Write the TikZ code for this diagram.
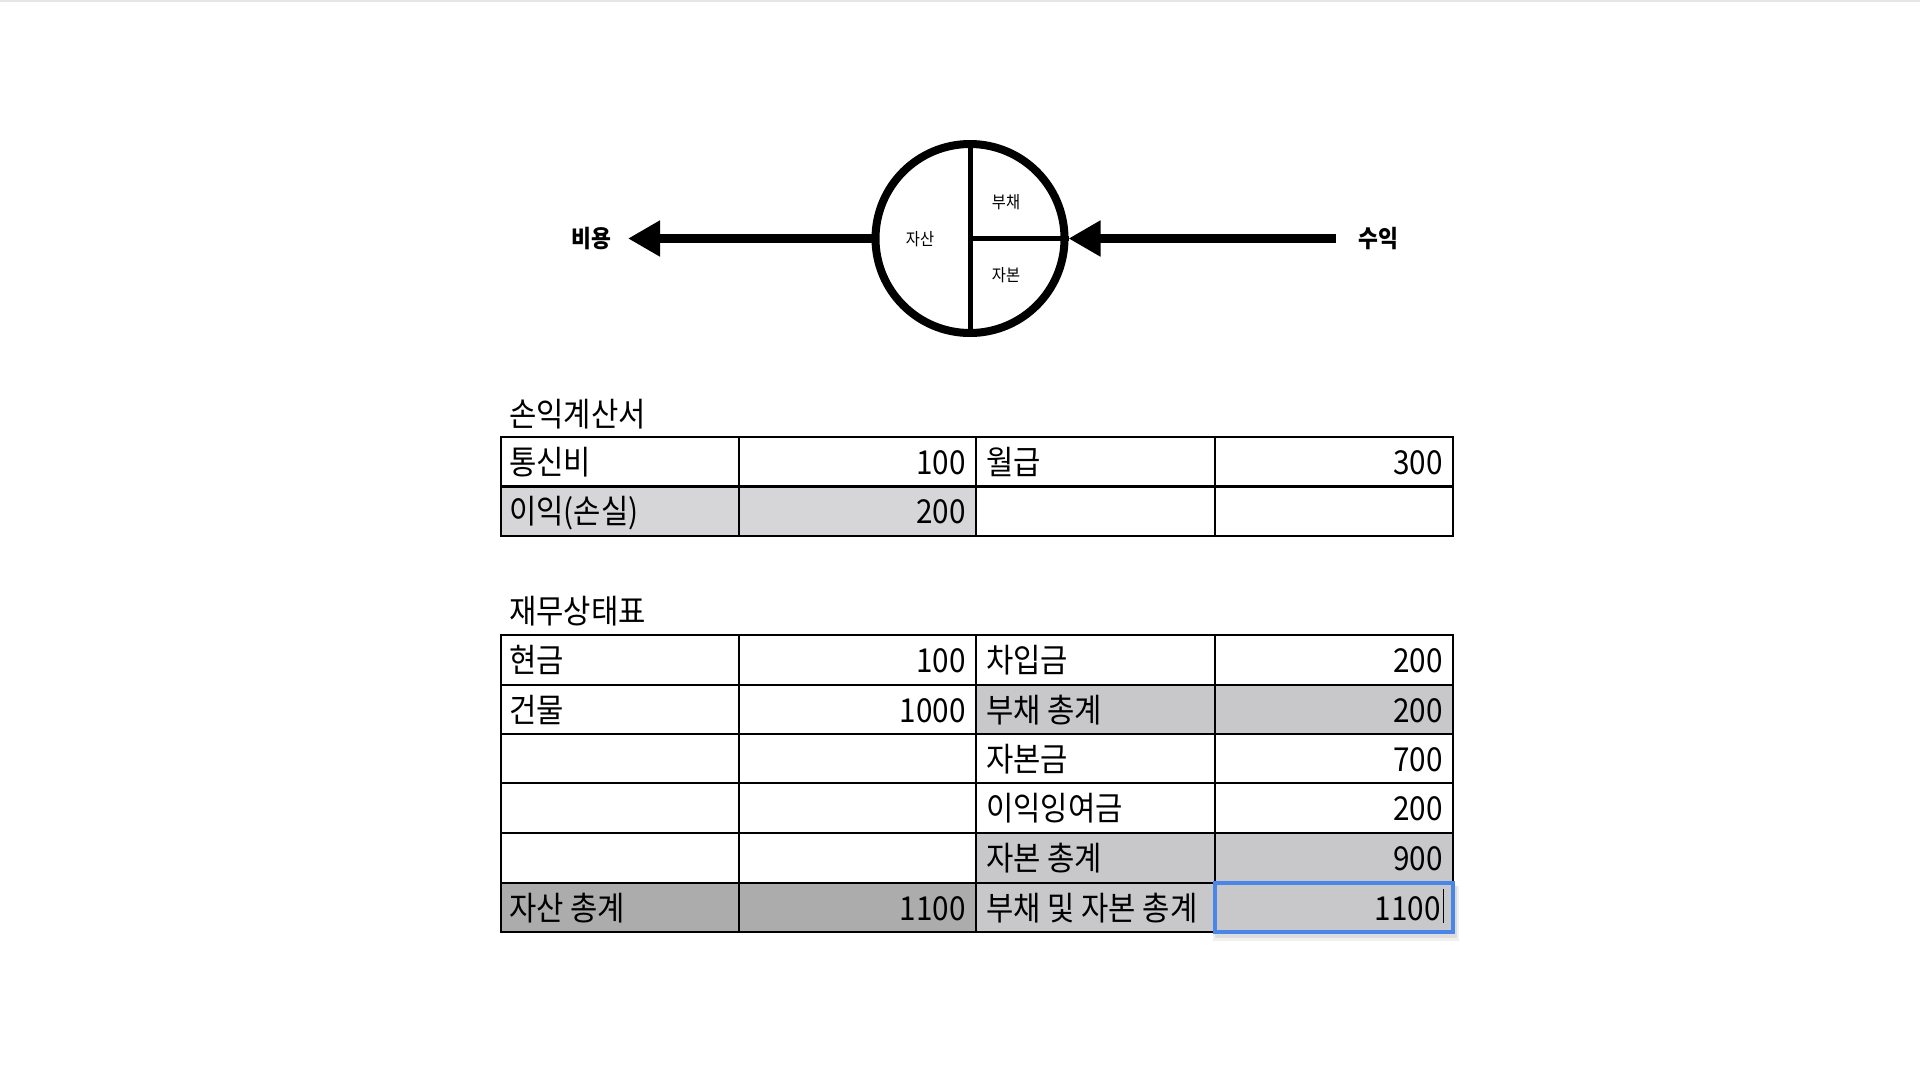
\documentclass[tikz,border=0pt]{standalone}
\usepackage{fontspec}
\setmainfont{Noto Sans CJK KR}[FakeStretch=0.9]
\usetikzlibrary{arrows.meta}
\definecolor{lightrow}{HTML}{D6D5D8}
\definecolor{midrow}{HTML}{C8C7C9}
\definecolor{darkrow}{HTML}{ACACAC}
\definecolor{selblue}{HTML}{4A86E8}
\definecolor{topline}{HTML}{E6E6E8}
\begin{document}
\begin{tikzpicture}[x=1pt,y=-1pt,
  celltext/.style={font=\fontsize{33}{38}\selectfont, inner sep=0pt},
  lt/.style={celltext, anchor=base west},
  rt/.style={celltext, anchor=base east},
  gridline/.style={line width=2.5pt, black},
  bigarrow/.style={line width=8.5pt, -{Triangle[length=32pt,width=34pt]}},
  arrowlabel/.style={font=\bfseries\fontsize{24}{27}\selectfont, inner sep=0pt},
  partlabel/.style={font=\fontsize{17}{19}\selectfont, inner sep=0pt},
]
\useasboundingbox (0,0) rectangle (1920,1080);
\fill[white] (0,0) rectangle (1920,1080);
\draw[topline, line width=2pt] (0,1) -- (1920,1) ;

% ---------- accounting circle ----------
\node[circle, draw, line width=8pt, minimum size=189pt, inner sep=0pt] (acct) at (970,238.5) {};
\draw[line width=5pt] (acct.north) -- (acct.south);
\draw[line width=5pt] (acct.center) -- (acct.east);
\node[partlabel] (asset) at (920,239) {자산};
\node[partlabel] (liab) at (1006,202) {부채};
\node[partlabel] (equity) at (1006,275) {자본};

\coordinate (costtip) at (628,238.5);
\coordinate (revstart) at (1336,238.5);
\draw[bigarrow] (acct.west) -- (costtip);
\draw[bigarrow] (revstart) -- (acct.east);
\node[arrowlabel] (cost) at (591,239) {비용};
\node[arrowlabel] (rev) at (1378,239) {수익};

% ---------- income statement ----------
\node[celltext, anchor=base west] (ishead) at (509,426) {손익계산서};
\fill[lightrow] (501,486.5) rectangle (976,536);
\draw[gridline] (501,437) rectangle (1453,536);
\draw[gridline] (501,486.5) -- (1453,486.5);
\foreach \cx in {739,976,1215} \draw[gridline] (\cx,437) -- (\cx,536);

\node[lt] (is11) at (509,474) {통신비};
\node[rt] (is12) at (966,474) {100};
\node[lt] (is13) at (986,474) {월급};
\node[rt] (is14) at (1443,474) {300};
\node[lt] (is21) at (509,523.5) {이익(손실)};
\node[rt] (is22) at (966,523.5) {200};

% ---------- balance sheet ----------
\node[celltext, anchor=base west] (bshead) at (509,623) {재무상태표};
\fill[midrow] (976,685) rectangle (1453,734);
\fill[midrow] (976,833) rectangle (1453,883);
\fill[darkrow] (501,883) rectangle (976,932);
\fill[midrow] (976,883) rectangle (1453,932);
\draw[gridline] (501,635) rectangle (1453,932);
\foreach \ry in {685,734,783,833,883} \draw[gridline] (501,\ry) -- (1453,\ry);
\foreach \cx in {739,976,1215} \draw[gridline] (\cx,635) -- (\cx,932);

\node[lt] (bs11) at (509,672.5) {현금};
\node[rt] (bs12) at (966,672.5) {100};
\node[lt] (bs13) at (986,672.5) {차입금};
\node[rt] (bs14) at (1443,672.5) {200};

\node[lt] (bs21) at (509,722) {건물};
\node[rt] (bs22) at (966,722) {1000};
\node[lt] (bs23) at (986,722) {부채 총계};
\node[rt] (bs24) at (1443,722) {200};

\node[lt] (bs33) at (986,771) {자본금};
\node[rt] (bs34) at (1443,771) {700};

\node[lt] (bs43) at (986,820.5) {이익잉여금};
\node[rt] (bs44) at (1443,820.5) {200};

\node[lt] (bs53) at (986,870.5) {자본 총계};
\node[rt] (bs54) at (1443,870.5) {900};

\node[lt] (bs61) at (509,920) {자산 총계};
\node[rt] (bs62) at (966,920) {1100};
\node[lt] (bs63) at (986,920) {부채 및 자본 총계};

% selected cell
\fill[black, opacity=0.06] (1213,886) rectangle (1459,941);
\fill[black, opacity=0.08] (1215,886) rectangle (1457,938);
\fill[midrow] (1215,883) rectangle (1453,932);
\draw[selblue, line width=4pt] (1215,883) rectangle (1453,932);
\node[rt] (bs64) at (1441,920) {1100};
\draw[line width=1.5pt] (1443.5,889) -- (1443.5,923);
\end{tikzpicture}
\end{document}
